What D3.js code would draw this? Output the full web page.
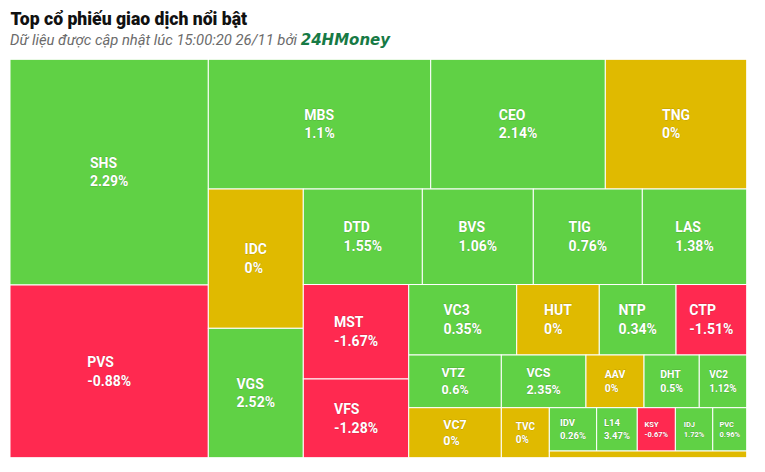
<!DOCTYPE html>
<html><head><meta charset="utf-8">
<script src="https://cdn.jsdelivr.net/npm/d3@7"></script>
<style>
html,body{margin:0;padding:0;background:#fff;}
svg{display:block;font-family:Roboto,"Noto Sans",sans-serif;}
</style></head>
<body><svg id="chart" width="765" height="472"></svg>
<script>
// ---- data (trading value; % change) ----
const tickers = ["SHS","PVS","MBS","CEO","TNG","IDC","VGS","DTD","BVS","TIG","LAS","MST","VFS","VC3","HUT","NTP","CTP","VTZ","VC7","VCS","AAV","DHT","VC2","TVC","IDV","L14","KSY","IDJ","PVC",""];
const tradeValues = [447.6,342.5,288.5,226.5,183.4,132.3,122.9,113.7,106.0,104.1,99.7,99.6,83.0,76.1,58.2,54.1,49.8,48.8,46.3,44.6,30.6,29.1,25.0,24.0,20.5,17.6,16.5,16.2,14.7,13.2];
const changes = [2.29,-0.88,1.1,2.14,0,0,2.52,1.55,1.06,0.76,1.38,-1.67,-1.28,0.35,0,0.34,-1.51,0.6,0,2.35,0,0.5,1.12,0,0.26,3.47,-0.67,1.72,0.96,0];
const titleText = "Top cổ phiếu giao dịch nổi bật";
const subtitleText = "Dữ liệu được cập nhật lúc 15:00:20 26/11 bởi ";
const brandText = "24HMoney";

const COLORS = {up:"#60D145", flat:"#E0BA00", down:"#FF2950"};

// squarified tiling with alternating strip direction
function hcSquarified(node, x0, y0, x1, y1) {
  const kids = node.children;
  const pW = x1 - x0, pH = y1 - y0;
  const g = {width:pW, height:pH, direction:0, total:0, nW:0, lW:0, nH:0, lH:0, nR:NaN, lR:NaN, el:[], nodes:[]};
  const plot = {x:x0, y:y0};
  const ar = (w,h) => Math.max(w/h, h/w);
  function add(area, nd) {
    const lpTotal = g.el[g.el.length-1];
    g.total += area;
    if (g.direction === 0) {
      g.lW = g.nW;
      g.lR = ar(g.lW, lpTotal / g.lW);
      g.nW = g.total / g.height;
      g.nR = ar(g.nW, lpTotal / g.nW);
    } else {
      g.lH = g.nH;
      g.lR = ar(lpTotal / g.lH, g.lH);
      g.nH = g.total / g.width;
      g.nR = ar(lpTotal / g.nH, g.nH);
    }
    g.el.push(area); g.nodes.push(nd);
  }
  function calc(last) {
    let gW = g.lW, gH = g.lH, keep, keepNode;
    if (last) { gW = g.nW; gH = g.nH; }
    else { keep = g.el[g.el.length-1]; keepNode = g.nodes[g.nodes.length-1]; }
    const end = g.el.length - 1;
    g.el.forEach((p, i) => {
      if (last || i < end) {
        let w, h;
        if (g.direction === 0) { w = gW; h = p / w; } else { h = gH; w = p / h; }
        const nd = g.nodes[i];
        nd.x0 = plot.x; nd.y0 = plot.y; nd.x1 = plot.x + w; nd.y1 = plot.y + h;
        if (g.direction === 0) plot.y += h; else plot.x += w;
      }
    });
    g.nW = 0; g.lW = 0; g.el = []; g.nodes = []; g.total = 0;
    if (g.direction === 0) g.width -= gW; else g.height -= gH;
    plot.y = y0 + (pH - g.height);
    plot.x = x0 + (pW - g.width);
    g.direction = 1 - g.direction;
    if (!last) add(keep, keepNode);
  }
  kids.forEach((c, i) => {
    add(pW * pH * c.value / node.value, c);
    if (g.nR > g.lR) calc(false);
    if (i === kids.length - 1) calc(true);
  });
}

const svg = d3.select("#chart");
const M = {left:10, top:59.3, right:18.3, bottom:14.3};
const W = 765 - M.left - M.right, H = 472 - M.top - M.bottom;

svg.append("text").attr("x", 10.5).attr("y", 25)
  .attr("font-size", 17.6).attr("font-weight", 900).attr("fill", "#111")
  .text(titleText);
const sub = svg.append("text").attr("x", 10).attr("y", 45)
  .attr("font-size", 14.8).attr("font-style", "italic").attr("fill", "#6b6b6b");
sub.append("tspan").text(subtitleText);
sub.append("tspan").attr("font-family", "'DejaVu Sans',sans-serif").attr("font-weight", 700)
  .attr("font-size", 15).attr("fill", "#177a45").text(brandText);

const items = tickers.map((t, i) => ({name:t, value:tradeValues[i], change:changes[i]}));
const root = d3.hierarchy({children:items}).sum(d => d.children ? 0 : d.value);
d3.treemap().tile(hcSquarified).size([W, H]).round(false)(root);

const g = svg.append("g").attr("transform", `translate(${M.left},${M.top})`);
const leaves = root.leaves();
const cell = g.selectAll("g.cell").data(leaves).join("g").attr("class", "cell");
cell.append("rect")
  .attr("x", d => d.x0).attr("y", d => d.y0)
  .attr("width", d => d.x1 - d.x0).attr("height", d => d.y1 - d.y0)
  .attr("fill", d => d.data.change > 0 ? COLORS.up : d.data.change < 0 ? COLORS.down : COLORS.flat)
  .attr("stroke", "#ffffff").attr("stroke-width", 1);

function fontFor(d) {
  const a = (d.x1 - d.x0) * (d.y1 - d.y0);
  return a >= 4950 ? 14 : a >= 4000 ? 12.5 : a >= 2700 ? 10.5 : a >= 2200 ? 10 : a >= 1700 ? 9.5 : 7.5;
}
cell.each(function(d) {
  const w = d.x1 - d.x0, h = d.y1 - d.y0;
  const fs = fontFor(d);
  if (!d.data.name || h < fs * 2.4) return;
  const cx = (d.x0 + d.x1) / 2, cy = (d.y0 + d.y1) / 2;
  const L = 1.33 * fs;
  const b1 = cy - 0.31 * fs;
  const t = d3.select(this).append("text")
    .attr("font-size", fs).attr("font-weight", 700).attr("fill", "#fff")
    .attr("stroke", "rgba(0,0,0,0.18)").attr("stroke-width", 0.8).attr("paint-order", "stroke");
  const t1 = t.append("tspan").attr("y", b1).text(d.data.name);
  const t2 = t.append("tspan").attr("y", b1 + L).text(d.data.change + "%");
  const bw = Math.max(t1.node().getComputedTextLength(), t2.node().getComputedTextLength());
  const x = cx - bw / 2;
  t1.attr("x", x); t2.attr("x", x);
});
</script>
</body></html>
